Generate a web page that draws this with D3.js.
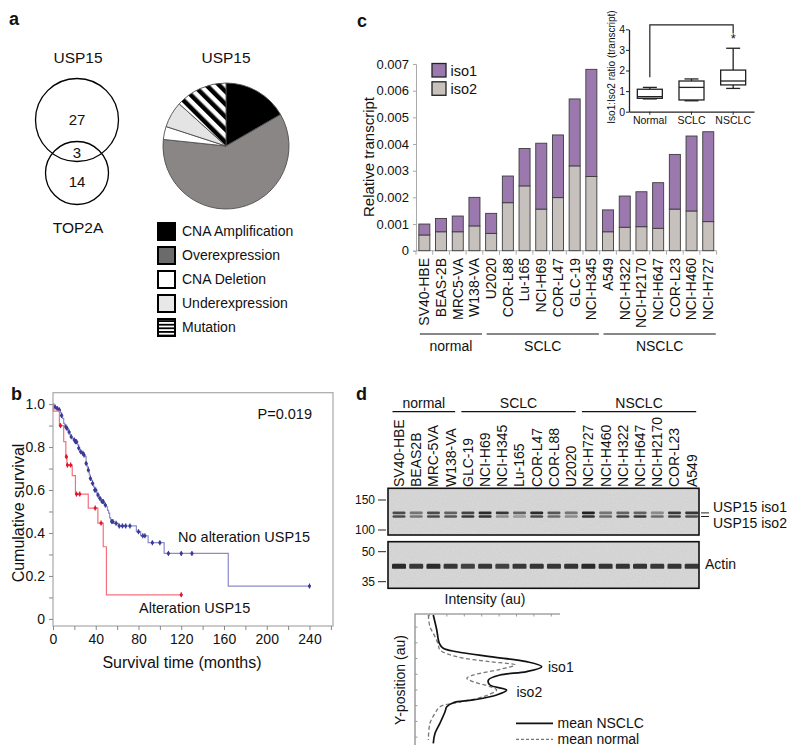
<!DOCTYPE html>
<html>
<head>
<meta charset="utf-8">
<script src="https://cdn.jsdelivr.net/npm/d3@7"></script>
<style>
body { margin: 0; background: #fff; }
svg text { font-family: "Liberation Sans", Arial, sans-serif; fill: #111; }
.plab { font-weight: bold; font-size: 18px; }
</style>
</head>
<body>
<script>
// ---- data ----
// a
var vennCounts = [27, 3, 14];
var pieLabels = ['CNA Amplification', 'Overexpression', 'CNA Deletion', 'Underexpression', 'Mutation'];
var pieCounts = [5, 18, 1, 2, 4];

// b : [months, survival after step]
var noAltSteps = [[1, 0.993], [2, 0.986], [3, 0.98], [5, 0.973], [7, 0.96], [8, 0.947], [9, 0.933], [10, 0.91],
  [11, 0.894], [13, 0.887], [14, 0.879], [15, 0.87], [16, 0.856], [17, 0.848], [18, 0.84], [19, 0.833],
  [21, 0.825], [23, 0.81], [24, 0.795], [25, 0.778], [27, 0.771], [29, 0.763], [30, 0.755], [31, 0.724],
  [32, 0.708], [33, 0.693], [34, 0.67], [35, 0.654], [36, 0.645], [37, 0.631], [38, 0.615], [39, 0.6],
  [41, 0.585], [42, 0.577], [43, 0.561], [45, 0.546], [48, 0.53], [50, 0.522], [51, 0.505], [52, 0.492],
  [53, 0.47], [54, 0.453], [57, 0.445], [61, 0.433], [78, 0.406], [82, 0.387], [89, 0.355], [104, 0.305], [164, 0.153]];
var noAltCensor = [2, 4, 6, 8, 12, 13, 15, 17, 20, 21, 22, 24, 26, 28, 29, 31, 33, 35, 37, 39, 40, 42, 44, 46,
  47, 49, 55, 56, 59, 62, 65, 68, 72, 80, 84, 86, 93, 100, 108, 120, 130, 240];
var altSteps = [[0.3, 0.967], [6, 0.9], [10, 0.825], [12, 0.755], [13, 0.716], [18, 0.667], [21, 0.581],
  [33, 0.516], [42, 0.446], [47, 0.336], [50, 0.112]];
var altCensor = [7, 12.5, 13.5, 16.5, 22, 25, 39.5, 45, 120];

// c
var cellLines = ['SV40-HBE', 'BEAS-2B', 'MRC5-VA', 'W138-VA', 'U2020', 'COR-L88', 'Lu-165', 'NCI-H69', 'COR-L47',
  'GLC-19', 'NCI-H345', 'A549', 'NCI-H322', 'NCI-H2170', 'NCI-H647', 'COR-L23', 'NCI-H460', 'NCI-H727'];
var iso2 = [0.00059, 0.00071, 0.00071, 0.00093, 0.00065, 0.0018, 0.00243, 0.00156, 0.00199,
  0.00318, 0.00278, 0.00071, 0.00088, 0.0009, 0.00084, 0.00156, 0.00149, 0.00109];
var iso1 = [0.00041, 0.0005, 0.00059, 0.00107, 0.00075, 0.001, 0.0014, 0.00247, 0.00235,
  0.00251, 0.00402, 0.00082, 0.00117, 0.00131, 0.00171, 0.00205, 0.00281, 0.00337];
var groupsC = [['normal', 0, 3], ['SCLC', 4, 10], ['NSCLC', 11, 17]];
// inset box stats: min, q1, median, q3, max
var ratioGroups = ['Normal', 'SCLC', 'NSCLC'];
var ratioStats = [[0.62, 0.65, 0.73, 1.09, 1.18], [0.53, 0.57, 1.18, 1.49, 1.59], [1.13, 1.3, 1.49, 2.02, 3.08]];

// d
var lanes = ['SV40-HBE', 'BEAS2B', 'MRC-5VA', 'W138-VA', 'GLC-19', 'NCI-H69', 'NCI-H345', 'Lu-165', 'COR-L47',
  'COR-L88', 'U2020', 'NCI-H727', 'NCI-H460', 'NCI-H322', 'NCI-H647', 'NCI-H2170', 'COR-L23', 'A549'];
var groupsD = [['normal', 0, 3], ['SCLC', 4, 10], ['NSCLC', 11, 17]];
var bandIso1 = [0.7, 0.5, 0.7, 0.6, 0.75, 0.9, 0.8, 0.6, 0.9, 0.65, 0.5, 0.95, 0.5, 0.6, 0.6, 0.4, 0.8, 0.85];
var bandIso2 = [0.7, 0.5, 0.7, 0.65, 0.8, 0.85, 0.4, 0.3, 0.7, 0.55, 0.4, 0.85, 0.55, 0.75, 0.8, 0.55, 0.75, 0.7];
var bandActin = [0.9, 0.8, 0.9, 0.8, 0.75, 0.8, 0.75, 0.8, 0.85, 0.8, 0.85, 0.9, 0.85, 0.85, 0.85, 0.8, 0.85, 0.8];
var profilePos = [0.8, 12.2, 22.4, 26.2, 28.8, 32.6, 36.4, 40.2, 44, 46.6, 50.4, 54.2, 58, 61.8, 65.6, 67.7, 70.8, 74.6, 83.4, 91.1, 98.7];
var profileNSCLC = [12.6, 15, 16.8, 19.5, 28.8, 51.7, 77, 87.4, 77, 58.6, 50.6, 51.7, 63.2, 56.3, 40.2, 26.4, 21.9, 20.7, 17.2, 13.8, 12.6];
var normalPos = [0.8, 9.7, 17.3, 23.7, 27.5, 32.6, 36.4, 38.9, 42.2, 46.6, 49.1, 51.7, 55.5, 58, 63.1, 67.7, 70.8, 75.8, 83.4, 96.2];
var profileNormal = [9.2, 10.3, 13.8, 16.1, 17.2, 28.8, 51.7, 69, 58.6, 40.2, 35.7, 40.2, 51.7, 56.3, 47.1, 28.8, 17.2, 13.8, 10.3, 9.2];

var w = 800, h = 756;
var svg = d3.select('body').append('svg').attr('width', w).attr('height', h);
svg.append('rect').attr('width', w).attr('height', h).attr('fill', '#fff');
var defs = svg.append('defs');

var pd = defs.append('pattern').attr('id', 'stripeDiag').attr('patternUnits', 'userSpaceOnUse')
  .attr('width', 9).attr('height', 9).attr('patternTransform', 'rotate(-45)');
pd.append('rect').attr('width', 9).attr('height', 9).attr('fill', '#fff');
pd.append('rect').attr('width', 4.5).attr('height', 9).attr('fill', '#000');
var ph = defs.append('pattern').attr('id', 'stripeHoriz').attr('patternUnits', 'userSpaceOnUse')
  .attr('width', 4).attr('height', 3.6);
ph.append('rect').attr('width', 4).attr('height', 3.6).attr('fill', '#fff');
ph.append('rect').attr('width', 4).attr('height', 1.8).attr('fill', '#000');

var blur = defs.append('filter').attr('id', 'blur').attr('x', '-20%').attr('y', '-60%').attr('width', '140%').attr('height', '220%');
blur.append('feGaussianBlur').attr('stdDeviation', 0.7);
var noise = defs.append('filter').attr('id', 'noise').attr('x', 0).attr('y', 0).attr('width', '100%').attr('height', '100%');
noise.append('feTurbulence').attr('type', 'fractalNoise').attr('baseFrequency', 0.8).attr('numOctaves', 2).attr('seed', 4);
noise.append('feColorMatrix').attr('type', 'saturate').attr('values', 0);

// ===== panel a =====
svg.append('text').attr('class', 'plab').attr('x', 9).attr('y', 25).text('a');

svg.append('text').text('USP15').attr('x', 78).attr('y', 63).attr('text-anchor', 'middle').style('font-size', '15.5px');
svg.append('circle').attr('cx', 77).attr('cy', 120).attr('r', 41.5)
  .attr('fill', 'none').attr('stroke', '#000').attr('stroke-width', 1.3);
svg.append('circle').attr('cx', 77).attr('cy', 173).attr('r', 31.5)
  .attr('fill', 'none').attr('stroke', '#000').attr('stroke-width', 1.3);
var vennY = [125, 158, 187];
vennCounts.forEach(function (d, i) {
  svg.append('text').text(d).attr('x', 77).attr('y', vennY[i]).attr('text-anchor', 'middle').style('font-size', '15px');
});
svg.append('text').text('TOP2A').attr('x', 78).attr('y', 233).attr('text-anchor', 'middle').style('font-size', '15.5px');

svg.append('text').text('USP15').attr('x', 226).attr('y', 63).attr('text-anchor', 'middle').style('font-size', '15.5px');
var pieFill = ['#000', '#8a8685', '#fff', '#e4e4e4', 'url(#stripeDiag)'];
var legendFill = ['#000', '#6b6b6b', '#fff', '#e8e8e8', 'url(#stripeHoriz)'];
var pieArcs = d3.pie().sort(null)(pieCounts);
var arc = d3.arc().innerRadius(0).outerRadius(63);
svg.append('g').attr('transform', 'translate(226,146)')
  .selectAll('path').data(pieArcs).enter().append('path')
  .attr('d', arc)
  .attr('fill', function (d, i) { return pieFill[i]; })
  .attr('stroke', '#4d4d4d').attr('stroke-width', 0.9);

var leg = svg.append('g').attr('transform', 'translate(158,223)');
pieLabels.forEach(function (d, i) {
  leg.append('rect').attr('x', 0).attr('y', i * 24).attr('width', 17).attr('height', 17)
    .attr('fill', legendFill[i]).attr('stroke', '#000').attr('stroke-width', 2);
  leg.append('text').text(d).attr('x', 24).attr('y', i * 24 + 13).style('font-size', '14px');
});

// ===== panel b =====
svg.append('text').attr('class', 'plab').attr('x', 11).attr('y', 400).text('b');
var bx = d3.scaleLinear().domain([0, 262]).range([53, 333]);
var by = d3.scaleLinear().domain([-0.033, 1.053]).range([626, 392.7]);
var gb = svg.append('g');
gb.append('rect').attr('x', 53).attr('y', 392.7).attr('width', 280).attr('height', 233.3)
  .attr('fill', 'none').attr('stroke', '#a8a8a8').attr('stroke-width', 1.2);

var bxAxis = gb.append('g').attr('transform', 'translate(0,626)')
  .call(d3.axisBottom(bx).tickValues(d3.range(0, 261, 20))
    .tickFormat(function (d) { return d % 40 === 0 ? d : ''; }).tickSize(4).tickPadding(4));
var byAxis = gb.append('g').attr('transform', 'translate(53,0)')
  .call(d3.axisLeft(by).tickValues(d3.range(0, 11).map(function (i) { return i / 10; }))
    .tickFormat(function (d) {
      var k = Math.round(d * 10);
      if (k % 2) return '';
      return k === 0 ? '0' : d3.format('.1f')(d);
    }).tickSize(4).tickPadding(4));
[bxAxis, byAxis].forEach(function (g) {
  g.select('.domain').remove();
  g.selectAll('line').attr('stroke', '#888');
  g.selectAll('text').style('font-size', '14px').attr('fill', '#111');
});

function kmPoints(steps, tEnd) {
  var pts = [[0, 1]];
  steps.forEach(function (s) { pts.push([s[0], s[1]]); });
  pts.push([tEnd, steps[steps.length - 1][1]]);
  return pts;
}
function survAt(steps, t) {
  var s = 1;
  steps.forEach(function (d) { if (d[0] <= t) s = d[1]; });
  return s;
}
var kmLine = d3.line().curve(d3.curveStepAfter)
  .x(function (d) { return bx(d[0]); }).y(function (d) { return by(d[1]); });

function drawKm(steps, censor, lineColor, markColor) {
  gb.append('path').attr('d', kmLine(kmPoints(steps, d3.max(censor))))
    .attr('fill', 'none').attr('stroke', lineColor).attr('stroke-width', 1.2);
  var m = gb.append('g').selectAll('g').data(censor).enter().append('g')
    .attr('transform', function (t) { return 'translate(' + bx(t) + ',' + by(survAt(steps, t)) + ')'; });
  m.append('line').attr('y1', -2.5).attr('y2', 2.5).attr('stroke', markColor).attr('stroke-width', 1.2);
  m.append('circle').attr('r', 1.6).attr('fill', markColor);
}
drawKm(noAltSteps, noAltCensor, '#8b8bcb', '#3a3a98');
drawKm(altSteps, altCensor, '#f3707e', '#e3142c');

gb.append('text').text('P=0.019').attr('x', 312).attr('y', 419).attr('text-anchor', 'end').style('font-size', '14.5px');
gb.append('text').text('No alteration USP15').attr('x', 178).attr('y', 542).style('font-size', '14.5px').attr('fill', '#3b2a8e');
gb.append('text').text('Alteration USP15').attr('x', 139).attr('y', 613).style('font-size', '14.5px').attr('fill', '#e8132c');
gb.append('text').text('Cumulative survival').attr('transform', 'translate(24,513) rotate(-90)')
  .attr('text-anchor', 'middle').style('font-size', '16px');
gb.append('text').text('Survival time (months)').attr('x', 182).attr('y', 668)
  .attr('text-anchor', 'middle').style('font-size', '16px');

// ===== panel c =====
svg.append('text').attr('class', 'plab').attr('x', 357).attr('y', 27).text('c');
var cx = d3.scaleBand().domain(cellLines).range([416, 716.6]).paddingInner(0.34).paddingOuter(0.17);
var cy = d3.scaleLinear().domain([0, 0.007]).range([250.7, 64]);
var gc = svg.append('g');

var cyAxis = gc.append('g').attr('transform', 'translate(416,0)')
  .call(d3.axisLeft(cy).tickValues(d3.range(0, 8).map(function (i) { return i / 1000; }))
    .tickFormat(function (d) { return d === 0 ? '0' : d3.format('.3f')(d); }).tickSize(3).tickPadding(4));
cyAxis.select('.domain').attr('stroke', '#aaa');
cyAxis.selectAll('line').attr('stroke', '#aaa');
cyAxis.selectAll('text').style('font-size', '13px').attr('fill', '#111');

var step = cx.step();
var bounds = d3.range(0, cellLines.length + 1).map(function (i) { return 416 + i * step; });
gc.append('line').attr('x1', 416).attr('x2', 716.6).attr('y1', 250.7).attr('y2', 250.7).attr('stroke', '#aaa');
gc.selectAll('line.ctick').data(bounds).enter().append('line').attr('class', 'ctick')
  .attr('x1', function (d) { return d; }).attr('x2', function (d) { return d; })
  .attr('y1', 250.7).attr('y2', 254.7).attr('stroke', '#aaa');

var barTable = cellLines.map(function (c, i) { return { line: c, iso2: iso2[i], iso1: iso1[i] }; });
var stacked = d3.stack().keys(['iso2', 'iso1'])(barTable);
var barColor = { iso1: '#9b79ae', iso2: '#c6c1bc' };
stacked.forEach(function (layer) {
  gc.append('g').selectAll('rect').data(layer).enter().append('rect')
    .attr('x', function (d) { return cx(d.data.line); })
    .attr('width', cx.bandwidth())
    .attr('y', function (d) { return cy(d[1]); })
    .attr('height', function (d) { return cy(d[0]) - cy(d[1]); })
    .attr('fill', barColor[layer.key]).attr('stroke', '#3c3c3c').attr('stroke-width', 0.9);
});

gc.selectAll('text.xl').data(cellLines).enter().append('text').attr('class', 'xl')
  .text(function (d) { return d; })
  .attr('transform', function (d) { return 'translate(' + (cx(d) + cx.bandwidth() / 2) + ',258) rotate(-90)'; })
  .attr('text-anchor', 'end').attr('dy', '0.35em').style('font-size', '14px');

groupsC.forEach(function (g) {
  var x1 = cx(cellLines[g[1]]) + 1, x2 = cx(cellLines[g[2]]) + cx.bandwidth() + 2;
  gc.append('line').attr('x1', x1).attr('x2', x2).attr('y1', 334).attr('y2', 334).attr('stroke', '#111').attr('stroke-width', 1.2);
  gc.append('text').text(g[0]).attr('x', (x1 + x2) / 2).attr('y', 351).attr('text-anchor', 'middle').style('font-size', '14px');
});

['iso1', 'iso2'].forEach(function (k, i) {
  gc.append('rect').attr('x', 432).attr('y', 63.5 + i * 18.3).attr('width', 14).attr('height', 13.5)
    .attr('fill', barColor[k]).attr('stroke', '#222').attr('stroke-width', 1.3);
  gc.append('text').text(k).attr('x', 450.5).attr('y', 75.5 + i * 18.3).style('font-size', '14.5px');
});
gc.append('text').text('Relative transcript').attr('transform', 'translate(374,157) rotate(-90)')
  .attr('text-anchor', 'middle').style('font-size', '15px');

// inset
var ix = d3.scaleBand().domain(ratioGroups).range([629, 754]);
var iy = d3.scaleLinear().domain([0, 4]).range([111.7, 29.3]);
var gi = svg.append('g');
var ixAxis = gi.append('g').attr('transform', 'translate(0,111.7)')
  .call(d3.axisBottom(ix).tickSize(3).tickPadding(2).tickSizeOuter(0));
var iyAxis = gi.append('g').attr('transform', 'translate(629,0)')
  .call(d3.axisLeft(iy).ticks(4).tickSize(3).tickPadding(1).tickSizeOuter(0));
[ixAxis, iyAxis].forEach(function (g) {
  g.select('.domain').attr('stroke', '#222').attr('stroke-width', 1.3);
  g.selectAll('line').attr('stroke', '#222');
  g.selectAll('text').style('font-size', '10.5px').attr('fill', '#111');
});
var bw = 25;
ratioGroups.forEach(function (g, i) {
  var s = ratioStats[i], mid = ix(g) + ix.bandwidth() / 2;
  var box = gi.append('g').attr('fill', 'none').attr('stroke', '#222').attr('stroke-width', 1.3);
  box.append('line').attr('x1', mid).attr('x2', mid).attr('y1', iy(s[3])).attr('y2', iy(s[4]));
  box.append('line').attr('x1', mid).attr('x2', mid).attr('y1', iy(s[1])).attr('y2', iy(s[0]));
  box.append('line').attr('x1', mid - 7).attr('x2', mid + 7).attr('y1', iy(s[4])).attr('y2', iy(s[4]));
  box.append('line').attr('x1', mid - 7).attr('x2', mid + 7).attr('y1', iy(s[0])).attr('y2', iy(s[0]));
  box.append('rect').attr('x', mid - bw / 2).attr('width', bw).attr('y', iy(s[3])).attr('height', iy(s[1]) - iy(s[3])).attr('fill', '#fff');
  box.append('line').attr('x1', mid - bw / 2).attr('x2', mid + bw / 2).attr('y1', iy(s[2])).attr('y2', iy(s[2]));
});
var nx = ix('Normal') + ix.bandwidth() / 2, sx = ix('NSCLC') + ix.bandwidth() / 2;
gi.append('path').attr('d', 'M' + nx + ',' + iy(1.67) + 'V' + iy(4.21) + 'H' + sx + 'V' + iy(3.8))
  .attr('fill', 'none').attr('stroke', '#222').attr('stroke-width', 1.2);
gi.append('text').text('*').attr('x', sx).attr('y', iy(3.35)).attr('text-anchor', 'middle').style('font-size', '13px');
gi.append('text').text('Iso1:Iso2 ratio (transcript)').attr('transform', 'translate(615,67) rotate(-90)')
  .attr('text-anchor', 'middle').style('font-size', '10px');

// ===== panel d =====
svg.append('text').attr('class', 'plab').attr('x', 356).attr('y', 400).text('d');
var lx = d3.scalePoint().domain(lanes).range([399, 691.7]);
var gd = svg.append('g');
groupsD.forEach(function (g) {
  var x1 = lx(lanes[g[1]]) - 6.5, x2 = lx(lanes[g[2]]) + 4.5;
  gd.append('line').attr('x1', x1).attr('x2', x2).attr('y1', 411.7).attr('y2', 411.7).attr('stroke', '#111').attr('stroke-width', 1.2);
  gd.append('text').text(g[0]).attr('x', (x1 + x2) / 2).attr('y', 407.5).attr('text-anchor', 'middle').style('font-size', '14px');
});
gd.selectAll('text.ln').data(lanes).enter().append('text').attr('class', 'ln')
  .text(function (d) { return d; })
  .attr('transform', function (d) { return 'translate(' + lx(d) + ',487) rotate(-90)'; })
  .attr('dy', '0.35em').style('font-size', '14px');

var upperY = d3.scaleLog().domain([150, 100]).range([500, 530]);
var lowerY = d3.scaleLog().domain([50, 35]).range([551.7, 581.7]);
var blots = [[488.3, 535, upperY, [150, 100]], [541.7, 588.3, lowerY, [50, 35]]];
blots.forEach(function (b) {
  gd.append('rect').attr('x', 388).attr('y', b[0]).attr('width', 311).attr('height', b[1] - b[0]).attr('fill', '#d7d7d7');
  gd.append('rect').attr('x', 388).attr('y', b[0]).attr('width', 311).attr('height', b[1] - b[0])
    .attr('filter', 'url(#noise)').attr('opacity', 0.18);
  b[3].forEach(function (mw) {
    gd.append('line').attr('x1', 378).attr('x2', 386).attr('y1', b[2](mw)).attr('y2', b[2](mw)).attr('stroke', '#222');
    gd.append('text').text(mw).attr('x', 375).attr('y', b[2](mw)).attr('dy', '0.35em')
      .attr('text-anchor', 'end').style('font-size', '12px');
  });
});
function drawBands(vals, y, bh, bwid) {
  gd.append('g').attr('filter', 'url(#blur)').selectAll('rect').data(vals).enter().append('rect')
    .attr('x', function (d, i) { return lx(lanes[i]) - bwid / 2; })
    .attr('width', bwid).attr('y', y - bh / 2).attr('height', bh).attr('rx', 1.2)
    .attr('fill', '#141414').attr('opacity', function (d) { return d; });
}
drawBands(bandIso1, upperY(126), 2.6, 13);
drawBands(bandIso2, upperY(120), 2.6, 13);
drawBands(bandActin, lowerY(42), 5, 14);
blots.forEach(function (b) {
  gd.append('rect').attr('x', 388).attr('y', b[0]).attr('width', 311).attr('height', b[1] - b[0])
    .attr('fill', 'none').attr('stroke', '#111').attr('stroke-width', 1.6);
});
[upperY(126), upperY(120)].forEach(function (y) {
  gd.append('line').attr('x1', 701).attr('x2', 709).attr('y1', y).attr('y2', y).attr('stroke', '#222');
});
gd.append('text').text('USP15 iso1').attr('x', 713).attr('y', 511.5).style('font-size', '14px');
gd.append('text').text('USP15 iso2').attr('x', 713).attr('y', 527.5).style('font-size', '14px');
gd.append('text').text('Actin').attr('x', 705).attr('y', 568.5).style('font-size', '14px');

// intensity profile
var px = d3.scaleLinear().domain([0, 100]).range([415, 560]);
var py = d3.scaleLinear().domain([0, 100]).range([614, 745]);
var gp = svg.append('g');
gp.append('path').attr('d', 'M560,614H415V745').attr('fill', 'none').attr('stroke', '#777').attr('stroke-width', 1.1);
gp.selectAll('line.tx').data(d3.range(10, 100, 12)).enter().append('line').attr('class', 'tx')
  .attr('x1', function (d) { return px(d); }).attr('x2', function (d) { return px(d); })
  .attr('y1', 614).attr('y2', 616.5).attr('stroke', '#999');
gp.selectAll('line.ty').data(d3.range(10, 100, 12)).enter().append('line').attr('class', 'ty')
  .attr('y1', function (d) { return py(d); }).attr('y2', function (d) { return py(d); })
  .attr('x1', 415).attr('x2', 417.5).attr('stroke', '#999');
var prof = d3.line().curve(d3.curveCatmullRom.alpha(0.5))
  .x(function (d) { return px(d[0]); }).y(function (d) { return py(d[1]); });
gp.append('path').attr('d', prof(profileNormal.map(function (v, i) { return [v, normalPos[i]]; })))
  .attr('fill', 'none').attr('stroke', '#777').attr('stroke-width', 1.3).attr('stroke-dasharray', '4,2.5');
gp.append('path').attr('d', prof(profileNSCLC.map(function (v, i) { return [v, profilePos[i]]; })))
  .attr('fill', 'none').attr('stroke', '#111').attr('stroke-width', 1.7);
gp.append('text').text('iso1').attr('x', 548).attr('y', 671.5).style('font-size', '14px');
gp.append('text').text('iso2').attr('x', 516.5).attr('y', 696.5).style('font-size', '14px');
gp.append('text').text('Intensity (au)').attr('x', 485).attr('y', 604).attr('text-anchor', 'middle').style('font-size', '14px');
gp.append('text').text('Y-position (au)').attr('transform', 'translate(405,680) rotate(-90)')
  .attr('text-anchor', 'middle').style('font-size', '14px');
gp.append('line').attr('x1', 516).attr('x2', 553).attr('y1', 723.3).attr('y2', 723.3).attr('stroke', '#111').attr('stroke-width', 1.7);
gp.append('line').attr('x1', 516).attr('x2', 553).attr('y1', 739.3).attr('y2', 739.3).attr('stroke', '#777')
  .attr('stroke-width', 1.3).attr('stroke-dasharray', '3,2');
gp.append('text').text('mean NSCLC').attr('x', 557.5).attr('y', 728.3).style('font-size', '14px');
gp.append('text').text('mean normal').attr('x', 557.5).attr('y', 744.3).style('font-size', '14px');
</script>
</body>
</html>
